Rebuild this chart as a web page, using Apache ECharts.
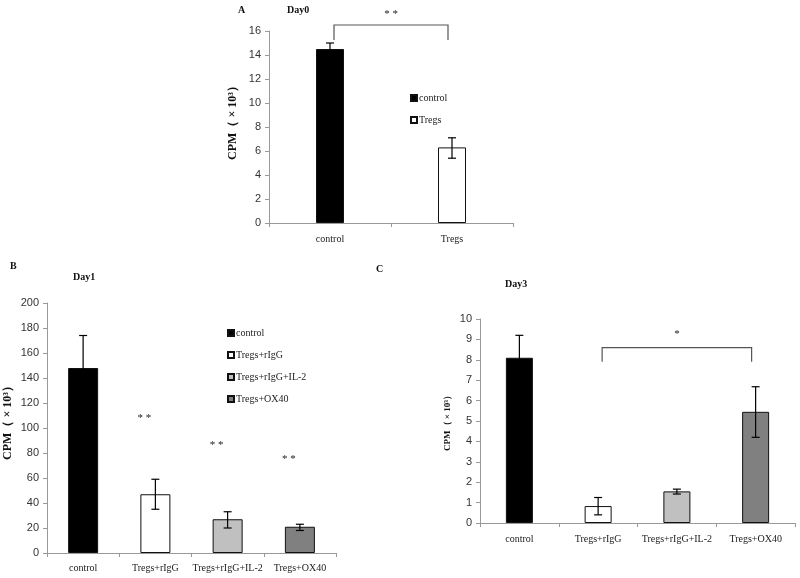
<!DOCTYPE html>
<html>
<head>
<meta charset="utf-8">
<script src="https://cdn.jsdelivr.net/npm/echarts@6/dist/echarts.min.js"></script>
<style>html,body{margin:0;padding:0;background:#fff}#c{width:800px;height:578px}</style>
</head>
<body>
<div id="c"></div>
<script>
// ---- Data ----
var catsA = ['control', 'Tregs'];
var valsA = [14.5, 6.3];
var errLoA = [14.0, 5.4];
var errHiA = [15.0, 7.1];

var catsB = ['control', 'Tregs+rIgG', 'Tregs+rIgG+IL-2', 'Tregs+OX40'];
var valsB = [148, 47, 27, 21];
var errLoB = [122, 35, 20, 18];
var errHiB = [174, 59, 33, 23];
var starPosB = [null, 108, 86, 75];

var catsC = ['control', 'Tregs+rIgG', 'Tregs+rIgG+IL-2', 'Tregs+OX40'];
var valsC = [8.1, 0.83, 1.55, 5.45];
var errLoC = [7.0, 0.4, 1.42, 4.2];
var errHiC = [9.2, 1.25, 1.66, 6.68];

var yTicksA = {min: 0, max: 16, interval: 2};
var yTicksB = {min: 0, max: 200, interval: 20};
var yTicksC = {min: 0, max: 10, interval: 1};

var fills = {'control': '#000000', 'Tregs': '#ffffff', 'Tregs+rIgG': '#ffffff', 'Tregs+rIgG+IL-2': '#c0c0c0', 'Tregs+OX40': '#808080'};

// ---- Chart ----
var serif = 'Liberation Serif';
var sans = 'Liberation Sans';
var yName = 'CPM（ × 10³）';

function grid(l, t, w, h) { return {left: l, top: t, width: w, height: h, containLabel: false}; }

function xAx(gi, cats, margin) {
  return {
    type: 'category', gridIndex: gi, data: cats,
    axisLine: {lineStyle: {color: '#999'}},
    axisTick: {show: true, length: 4, lineStyle: {color: '#999'}},
    axisLabel: {fontFamily: serif, fontSize: 10, color: '#222', margin: margin, interval: 0}
  };
}
function yAx(gi, t, gap, fs, shift) {
  return {
    type: 'value', gridIndex: gi, min: t.min, max: t.max, interval: t.interval,
    axisLine: {show: true, lineStyle: {color: '#999'}},
    axisTick: {show: true, length: 4, lineStyle: {color: '#999'}},
    splitLine: {show: false},
    axisLabel: {fontFamily: sans, fontSize: 11, color: '#333', margin: 8},
    name: yName, nameLocation: 'middle', nameRotate: 90, nameGap: gap,
    nameTextStyle: {fontFamily: serif, fontSize: fs, fontWeight: 'bold', color: '#111', padding: [0, 0, 0, shift]}
  };
}

function barSeries(gi, cats, vals, width) {
  return cats.map(function (c, k) {
    return {
      type: 'bar', name: c, xAxisIndex: gi, yAxisIndex: gi, barWidth: width, barGap: '-100%',
      itemStyle: {color: fills[c], borderColor: '#111', borderWidth: 1},
      data: cats.map(function (_, i) { return i === k ? vals[i] : '-'; }),
      z: 2
    };
  });
}

function errRender(params, api) {
  var x = api.value(0), lo = api.value(1), hi = api.value(2);
  var pHi = api.coord([x, hi]), pLo = api.coord([x, lo]);
  var hw = 4;
  var st = {stroke: '#000', lineWidth: 1.2};
  return {type: 'group', children: [
    {type: 'line', shape: {x1: pHi[0], y1: pHi[1], x2: pLo[0], y2: pLo[1]}, style: st},
    {type: 'line', shape: {x1: pHi[0] - hw, y1: pHi[1], x2: pHi[0] + hw, y2: pHi[1]}, style: st},
    {type: 'line', shape: {x1: pLo[0] - hw, y1: pLo[1], x2: pLo[0] + hw, y2: pLo[1]}, style: st}
  ]};
}
function errSeries(gi, lo, hi) {
  return {
    type: 'custom', name: 'err' + gi, xAxisIndex: gi, yAxisIndex: gi, z: 5,
    renderItem: errRender, encode: {x: 0, y: [1, 2]},
    data: lo.map(function (l, i) { return [i, l, hi[i]]; })
  };
}

function bracketRender(params, api) {
  var a = api.coord([api.value(0), api.value(2)]);
  var b = api.coord([api.value(1), api.value(2)]);
  var d = api.coord([api.value(0), api.value(3)]);
  var s = api.coord([api.value(0), api.value(4)]);
  var mx = (a[0] + b[0]) / 2;
  var st = {stroke: '#555', lineWidth: 1.2, fill: null};
  return {type: 'group', children: [
    {type: 'polyline', shape: {points: [[a[0] + 4, d[1]], [a[0] + 4, a[1]], [b[0] - 4, b[1]], [b[0] - 4, d[1]]]}, style: st},
    {type: 'text', x: mx, y: s[1], style: {text: api.value(5) === 1 ? '* *' : '*', fontFamily: serif, fontSize: 11, fill: '#222', align: 'center', verticalAlign: 'middle'}}
  ]};
}

function starRender(params, api) {
  var p = api.coord([api.value(0), api.value(1)]);
  return {type: 'text', x: p[0] - 11, y: p[1], style: {text: '* *', fontFamily: serif, fontSize: 11, fill: '#222', align: 'center', verticalAlign: 'middle'}};
}

var series = [];
series = series.concat(barSeries(0, catsA, valsA, 28));
series.push(errSeries(0, errLoA, errHiA));
series.push({type: 'custom', name: 'brA', xAxisIndex: 0, yAxisIndex: 0, renderItem: bracketRender, clip: false, z: 6,
  data: [[0, 1, 16.5, 15.25, 17.4, 1]]});

series = series.concat(barSeries(1, catsB, valsB, 30));
series.push(errSeries(1, errLoB, errHiB));
series.push({type: 'custom', name: 'starsB', xAxisIndex: 1, yAxisIndex: 1, renderItem: starRender, z: 6,
  data: starPosB.map(function (v, i) { return v === null ? null : [i, v]; }).filter(function (d) { return d; })});

series = series.concat(barSeries(2, catsC, valsC, 27));
series.push(errSeries(2, errLoC, errHiC));
series.push({type: 'custom', name: 'brC', xAxisIndex: 2, yAxisIndex: 2, renderItem: bracketRender, clip: false, z: 6,
  data: [[1, 3, 8.6, 7.9, 9.25, 0]]});

function legend(left, top, names) {
  return {
    left: left, top: top, orient: 'vertical', itemGap: 12, icon: 'rect', itemWidth: 6, itemHeight: 6,
    textStyle: {fontFamily: serif, fontSize: 10, color: '#222', padding: [0, 0, 0, -3]},
    data: names, selectedMode: false
  };
}

var titleStyle = {fontFamily: serif, fontSize: 10, fontWeight: 'bold', color: '#111'};
var option = {
  animation: false,
  backgroundColor: '#fff',
  title: [
    {text: 'A', left: 233, top: 0, textStyle: titleStyle},
    {text: 'Day0', left: 282, top: 0, textStyle: titleStyle},
    {text: 'B', left: 5, top: 256, textStyle: titleStyle},
    {text: 'Day1', left: 68, top: 267, textStyle: titleStyle},
    {text: 'C', left: 371, top: 259, textStyle: titleStyle},
    {text: 'Day3', left: 500, top: 274, textStyle: titleStyle}
  ],
  legend: [
    legend(405, 88, catsA),
    legend(222, 323, catsB)
  ],
  grid: [grid(269, 31, 244, 192), grid(47, 303, 289, 250), grid(480, 319, 315, 204)],
  xAxis: [xAx(0, catsA, 11), xAx(1, catsB, 10), xAx(2, catsC, 11)],
  yAxis: [yAx(0, yTicksA, 30, 12, 14), yAx(1, yTicksB, 33, 12, 16), yAx(2, yTicksC, 28, 9, 0)],
  series: series
};

var chart = echarts.init(document.getElementById('c'), null, {renderer: 'canvas'});
chart.setOption(option);
</script>
</body>
</html>
